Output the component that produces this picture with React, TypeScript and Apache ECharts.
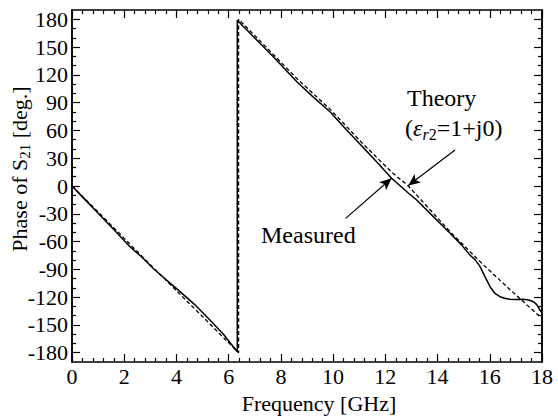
import React, { useEffect, useRef } from 'react';
import * as echarts from 'echarts';

// Measured phase of S21 (GHz, deg)
const measuredFreq = [0, 0.5, 1, 1.5, 2.22, 2.7, 3.11, 3.6, 4.14, 4.7, 5.29, 5.8, 6.33, 6.33, 7, 7.71, 8.61, 9.2, 9.88, 10.5, 11.16, 11.7, 12.24, 12.88, 13.2, 13.8, 14.48, 14.9, 15.24, 15.45, 15.63, 15.8, 16.01, 16.2, 16.39, 16.6, 16.78, 17.0, 17.28, 17.5, 17.67, 17.8, 17.92, 18];
const measuredPhase = [0, -14.7, -29.4, -44, -65.5, -77.5, -89, -101, -114, -128, -145, -160, -179, 179, 159.8, 139.6, 112.6, 97, 80.2, 61, 41.4, 25, 8.3, -7.6, -15.1, -32, -51.1, -63, -74.5, -80, -87.1, -97, -108.7, -116, -119.5, -121.5, -122.3, -122.5, -122.3, -123, -124.9, -128, -133.9, -137];

// Theory (eps_r2 = 1 + j0)
const theoryFreq = [0, 1, 2, 3, 4, 5, 6.38, 6.38, 7.71, 8.61, 9.88, 11.16, 12.24, 12.88, 13.5, 14.5, 15.75, 16.78, 17.92, 18];
const theoryPhase = [0, -28, -56.5, -85, -113, -141, -180, 180, 142, 116, 83, 45, 15, 0, -19, -50, -85, -112, -141, -143];

// Axis ticks
const yTickLabels = [-180, -150, -120, -90, -60, -30, 0, 30, 60, 90, 120, 150, 180];
const yMinorTicks = [-170, -160, -140, -130, -110, -100, -80, -70, -50, -40, -20, -10, 10, 20, 40, 50, 70, 80, 100, 110, 130, 140, 160, 170];

// Annotation arrows [start, tip] in (GHz, deg)
const measuredArrow = [[10.48, -34.9], [12.24, 8.3]];
const theoryArrow = [[14.67, 38.9], [12.88, 0.5]];

const FONT = 'Liberation Serif';

export default function App() {
  const ref = useRef<HTMLDivElement>(null);
  useEffect(() => {
    if (!ref.current) return;
    const chart = echarts.init(ref.current, undefined, { renderer: 'svg' });
    const axisLine = { show: true, onZero: false, lineStyle: { color: '#000', width: 1.5 } };
    const yBase = { type: 'value', min: -190, max: 190, splitLine: { show: false }, axisLine };
    const xBase = { type: 'value', min: 0, max: 18, interval: 2, splitLine: { show: false }, axisLine,
      axisTick: { show: true, inside: true, length: 8, lineStyle: { color: '#000', width: 1.2 } },
      minorTick: { show: true, splitNumber: 5, length: 4, lineStyle: { color: '#000', width: 1.2 } } };
    const arrowLine = (pts: number[][]) => [
      { coord: pts[0], symbol: 'none' },
      { coord: pts[1], symbol: 'arrow', symbolSize: [8, 12] },
    ];
    chart.setOption({
      animation: false,
      grid: { left: 72, right: 16, top: 10, bottom: 57, containLabel: false, outerBoundsMode: 'none' },
      xAxis: [
        { ...xBase, position: 'bottom',
          axisLabel: { fontFamily: FONT, fontSize: 22, color: '#000', margin: 3 },
          name: 'Frequency [GHz]', nameLocation: 'middle', nameGap: 30, nameMoveOverlap: false,
          nameTextStyle: { fontFamily: FONT, fontSize: 22, color: '#000', padding: [0, 0, 0, 24] } },
        { ...xBase, position: 'top', axisLabel: { show: false } },
      ],
      yAxis: [
        { ...yBase, position: 'left',
          axisTick: { show: true, inside: true, length: 8, customValues: yTickLabels, lineStyle: { color: '#000', width: 1.2 } },
          axisLabel: { customValues: yTickLabels, fontFamily: FONT, fontSize: 22, color: '#000', margin: 4 },
          name: 'Phase of S{sub|21} [deg.]', nameLocation: 'middle', nameRotate: 90, nameGap: 40, nameMoveOverlap: false,
          nameTextStyle: { fontFamily: FONT, fontSize: 22, color: '#000', lineHeight: 26, padding: [0, 0, 0, 34],
            rich: { sub: { fontFamily: FONT, fontSize: 15, color: '#000', verticalAlign: 'bottom', lineHeight: 12 } } } },
        { ...yBase, position: 'left', axisLabel: { show: false },
          axisTick: { show: true, inside: true, length: 4, customValues: yMinorTicks, lineStyle: { color: '#000', width: 1.2 } } },
        { ...yBase, position: 'right', axisLabel: { show: false },
          axisTick: { show: true, inside: true, length: 8, customValues: yTickLabels, lineStyle: { color: '#000', width: 1.2 } } },
        { ...yBase, position: 'right', axisLabel: { show: false },
          axisTick: { show: true, inside: true, length: 4, customValues: yMinorTicks, lineStyle: { color: '#000', width: 1.2 } } },
      ],
      series: [
        {
          type: 'line', name: 'Measured', xAxisIndex: 0, yAxisIndex: 0,
          data: measuredFreq.map((f, i) => [f, measuredPhase[i]]),
          showSymbol: false, symbol: 'none',
          lineStyle: { color: '#000', width: 1.5 },
          emphasis: { disabled: true }, silent: true,
          markLine: {
            silent: true, animation: false,
            label: { show: false },
            lineStyle: { color: '#000', width: 1.2, type: 'solid' },
            emphasis: { disabled: true },
            data: [arrowLine(measuredArrow), arrowLine(theoryArrow)],
          },
        },
        {
          type: 'line', name: 'Theory', xAxisIndex: 0, yAxisIndex: 0,
          data: theoryFreq.map((f, i) => [f, theoryPhase[i]]),
          showSymbol: false, symbol: 'none',
          lineStyle: { color: '#000', width: 1.3, type: [4, 2.5] },
          emphasis: { disabled: true }, silent: true,
        },
      ],
      graphic: [
        { type: 'text', x: 407, y: 98, silent: true,
          style: { text: 'Theory', fontFamily: FONT, fontSize: 24, fill: '#000', align: 'left', verticalAlign: 'middle' } },
        { type: 'text', x: 405, y: 128, silent: true,
          style: { text: '({eps|ε}{sub|r}{sub2|2}=1+j0)', fontFamily: FONT, fontSize: 24, fill: '#000', lineHeight: 28,
            align: 'left', verticalAlign: 'middle',
            rich: {
              eps: { fontFamily: FONT, fontSize: 24, fontStyle: 'italic', lineHeight: 28, fill: '#000' },
              sub: { fontFamily: FONT, fontSize: 16, fontStyle: 'italic', lineHeight: 12, verticalAlign: 'bottom', fill: '#000' },
              sub2: { fontFamily: FONT, fontSize: 16, lineHeight: 12, verticalAlign: 'bottom', fill: '#000' },
            } } },
        { type: 'text', x: 261, y: 235, silent: true,
          style: { text: 'Measured', fontFamily: FONT, fontSize: 24, fill: '#000', align: 'left', verticalAlign: 'middle' } },
      ],
    });
    return () => chart.dispose();
  }, []);
  return <div ref={ref} style={{ position: 'fixed', left: 0, top: 0, width: 558, height: 419, background: '#fff' }} />;
}
